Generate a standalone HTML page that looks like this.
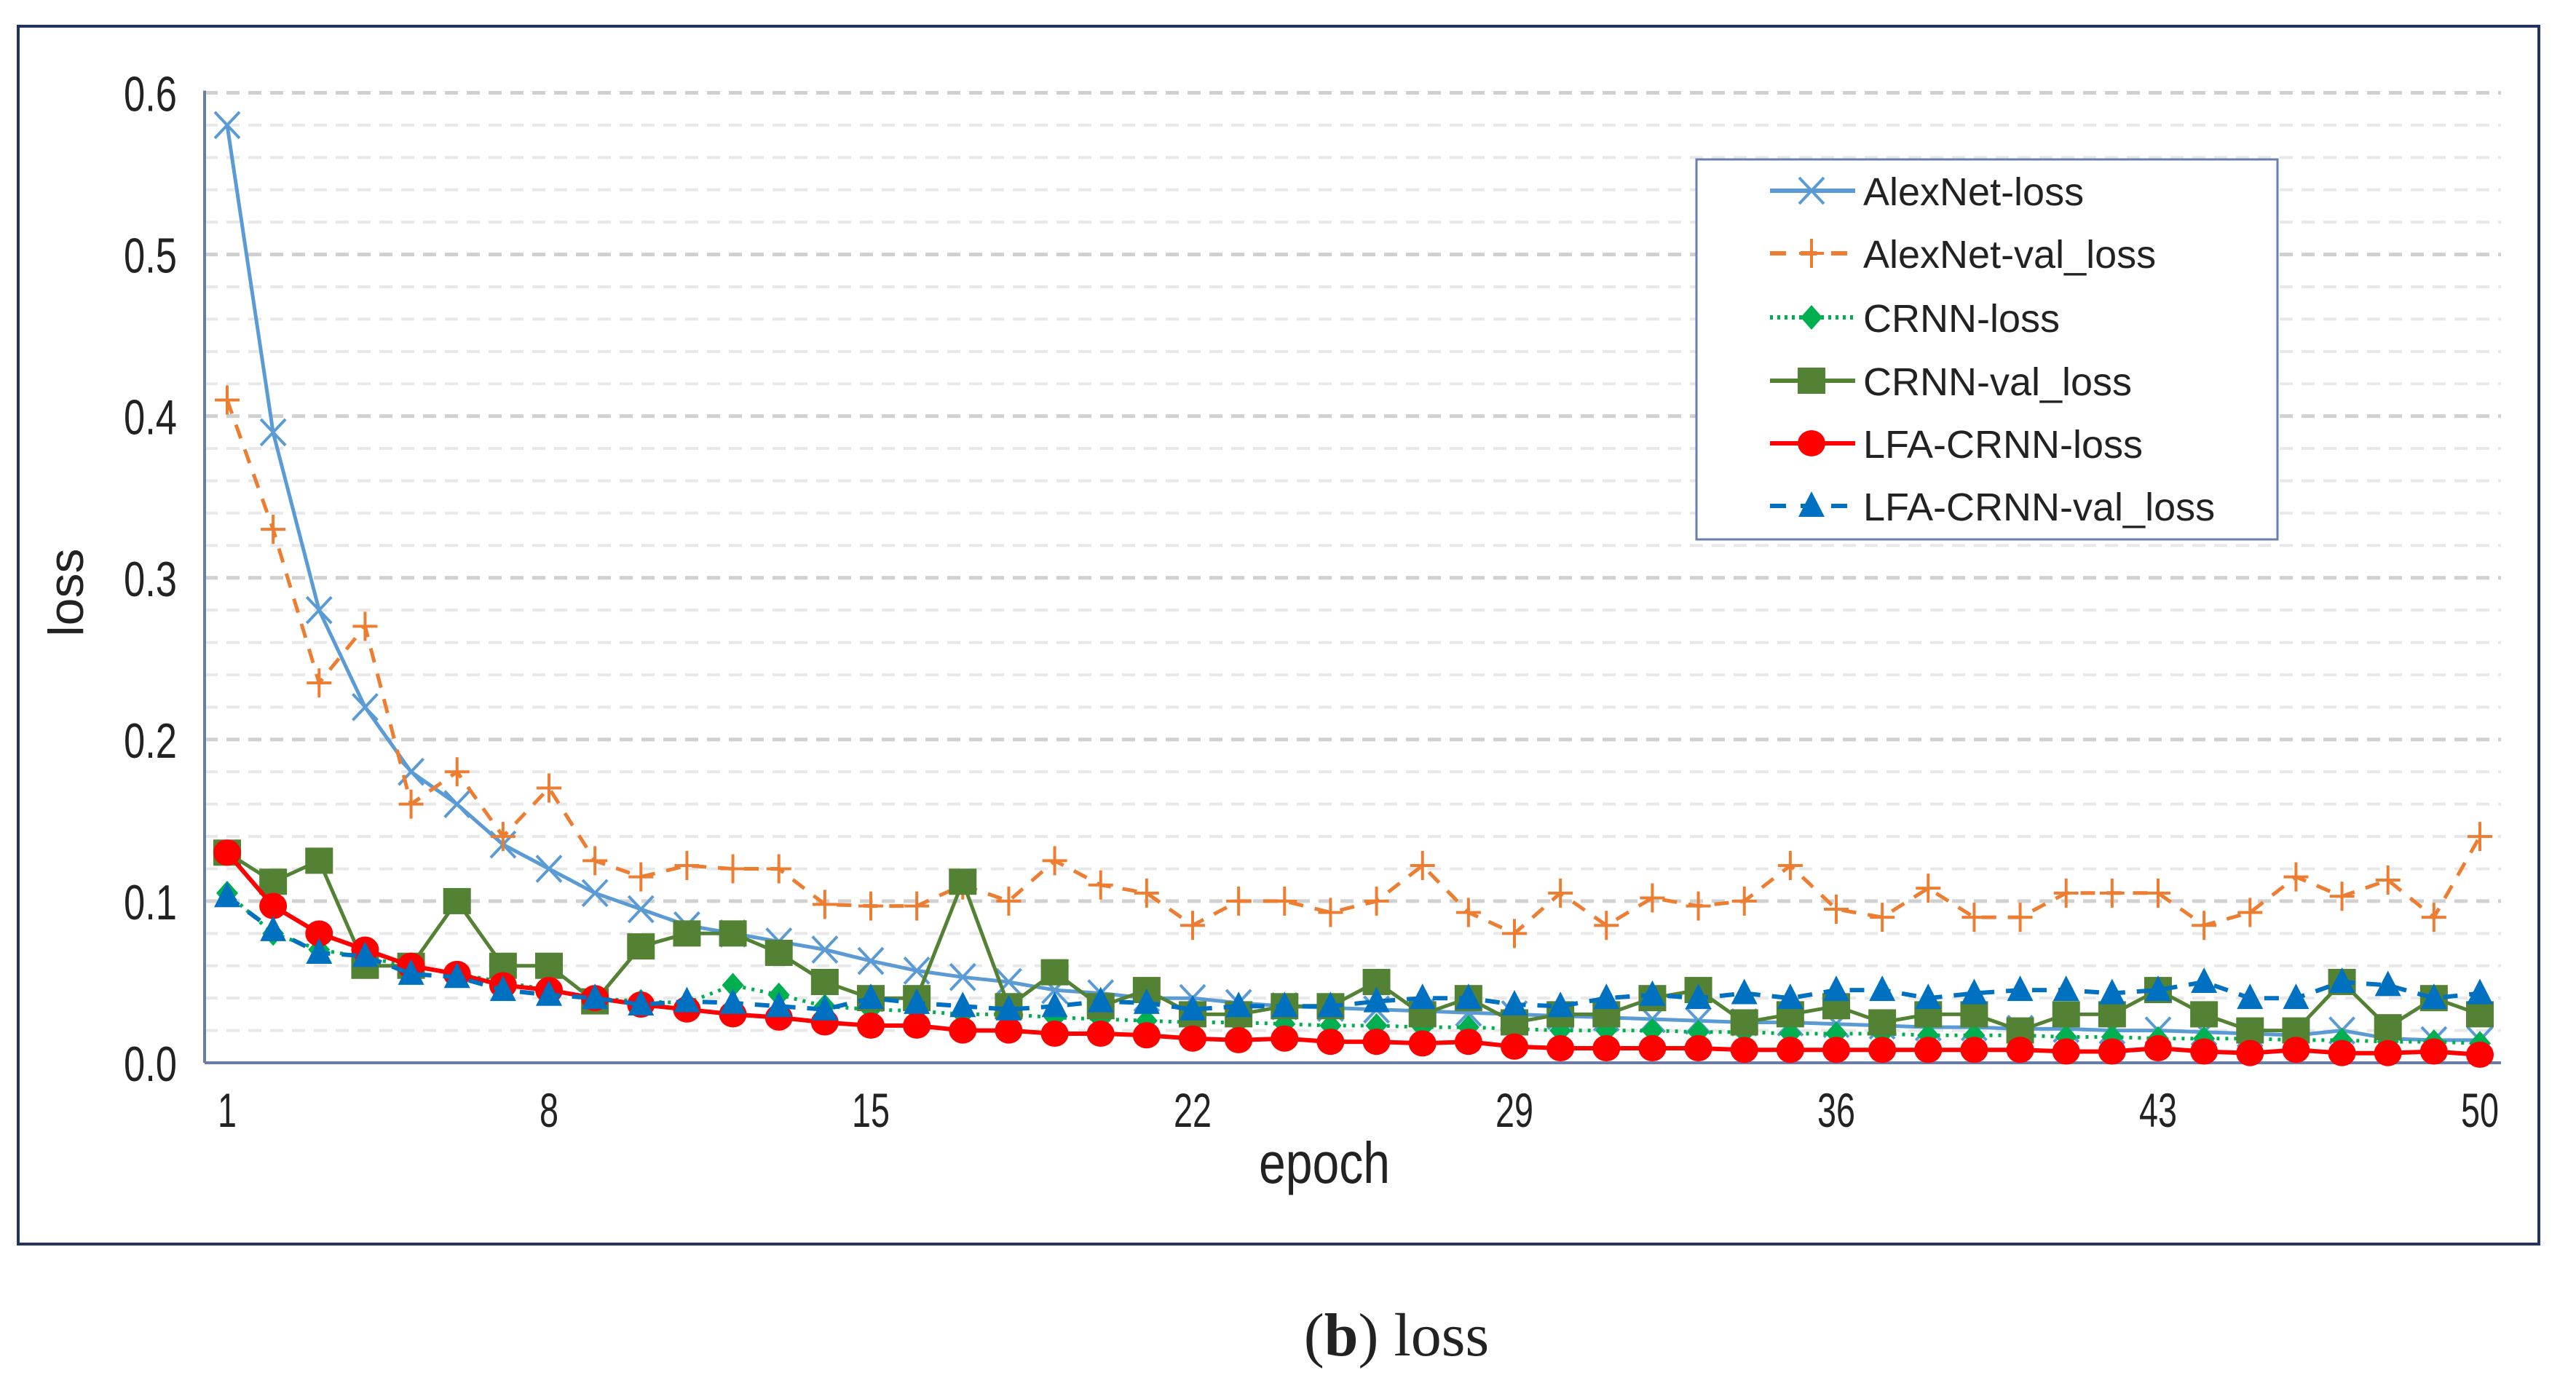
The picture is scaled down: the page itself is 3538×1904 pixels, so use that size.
<!DOCTYPE html>
<html><head><meta charset="utf-8"><style>
html,body{margin:0;padding:0;background:#fff;}
svg{display:block;}
text{font-family:"Liberation Sans",sans-serif;fill:#222;}
</style></head><body>
<svg id="chart" width="3538" height="1904" viewBox="0 0 3538 1904" xmlns="http://www.w3.org/2000/svg">
<rect x="25" y="36" width="3462" height="1673" fill="#fff" stroke="#22335f" stroke-width="4"/>
<g id="grid"></g>
<g id="axes"></g>
<g id="series"></g>
<text x="0" y="0" transform="translate(114,814) rotate(-90)" text-anchor="middle" font-size="68" textLength="121" lengthAdjust="spacingAndGlyphs">loss</text>
<text x="1729" y="1625" font-size="80" textLength="180" lengthAdjust="spacingAndGlyphs">epoch</text>
<g>
<rect x="2330" y="219" width="798" height="522" fill="#fff" stroke="#6a7fb0" stroke-width="3"/>
<g id="legend"></g>
</g>
<text x="1918" y="1862" text-anchor="middle" font-size="84" style="font-family:'Liberation Serif',serif">(<tspan font-weight="bold">b</tspan>) loss</text>
</svg>
<script>
const epochs = Array.from({length:50},(_,i)=>i+1);
const xTicks = [1,8,15,22,29,36,43,50];
const yTicks = [0.0,0.1,0.2,0.3,0.4,0.5,0.6];
const alexLoss = [0.58,0.39,0.28,0.22,0.18,0.16,0.135,0.12,0.105,0.095,0.085,0.08,0.075,0.07,0.063,0.057,0.053,0.05,0.045,0.043,0.04,0.04,0.037,0.035,0.034,0.033,0.032,0.031,0.03,0.029,0.028,0.027,0.026,0.025,0.025,0.024,0.023,0.022,0.022,0.021,0.021,0.02,0.02,0.019,0.018,0.017,0.02,0.015,0.014,0.014];
const alexVal = [0.41,0.33,0.235,0.27,0.16,0.18,0.14,0.17,0.125,0.115,0.122,0.12,0.12,0.098,0.097,0.097,0.11,0.1,0.125,0.11,0.105,0.085,0.1,0.1,0.093,0.1,0.122,0.093,0.08,0.105,0.085,0.102,0.097,0.1,0.122,0.095,0.09,0.108,0.09,0.09,0.105,0.105,0.105,0.085,0.093,0.115,0.103,0.113,0.09,0.14];
const crnnLoss = [0.105,0.08,0.07,0.065,0.06,0.055,0.05,0.045,0.04,0.038,0.037,0.048,0.042,0.035,0.033,0.032,0.03,0.03,0.028,0.027,0.026,0.025,0.025,0.024,0.023,0.023,0.022,0.022,0.021,0.02,0.02,0.02,0.019,0.019,0.018,0.018,0.018,0.017,0.017,0.017,0.016,0.016,0.015,0.015,0.015,0.014,0.014,0.013,0.013,0.012];
const crnnVal = [0.13,0.112,0.125,0.06,0.06,0.1,0.06,0.06,0.038,0.072,0.08,0.08,0.068,0.05,0.04,0.04,0.112,0.035,0.056,0.035,0.045,0.03,0.03,0.035,0.035,0.05,0.03,0.04,0.025,0.03,0.03,0.04,0.045,0.025,0.03,0.035,0.025,0.03,0.03,0.02,0.03,0.03,0.045,0.03,0.02,0.02,0.05,0.022,0.04,0.03];
const lfaLoss = [0.13,0.097,0.08,0.07,0.06,0.055,0.048,0.045,0.04,0.036,0.033,0.03,0.028,0.025,0.023,0.023,0.02,0.02,0.018,0.018,0.017,0.015,0.014,0.015,0.013,0.013,0.012,0.013,0.01,0.009,0.009,0.009,0.009,0.008,0.008,0.008,0.008,0.008,0.008,0.008,0.007,0.007,0.009,0.007,0.006,0.008,0.006,0.006,0.007,0.005];
const lfaVal = [0.103,0.082,0.068,0.066,0.055,0.053,0.045,0.042,0.04,0.036,0.038,0.037,0.035,0.033,0.04,0.037,0.035,0.033,0.035,0.038,0.037,0.033,0.035,0.035,0.035,0.038,0.04,0.04,0.036,0.035,0.04,0.042,0.04,0.043,0.04,0.045,0.045,0.04,0.043,0.045,0.045,0.043,0.045,0.05,0.04,0.04,0.05,0.048,0.04,0.043];

const NS="http://www.w3.org/2000/svg";
const X0=312, X1=3406, Y0=1460, Y1=127.5;
const xs = e => X0 + (e-1)*(X1-X0)/49;
const ys = v => Y0 - v*(Y0-Y1)/0.6;
function mk(tag, attrs, parent){const el=document.createElementNS(NS,tag);for(const k in attrs)el.setAttribute(k,attrs[k]);parent.appendChild(el);return el;}

const grid=document.getElementById('grid');
for(let i=1;i<=30;i++){
  const v=i*0.02;
  const major = i%5===0;
  const l=mk('line',{x1:281,x2:3435,y1:ys(v),y2:ys(v),stroke:major?'#d0d0d0':'#e8e8e8','stroke-width':major?5:4,'stroke-dasharray':'18 12'},grid);
  
  
}
const axes=document.getElementById('axes');
let a=mk('line',{x1:281,x2:281,y1:Y1-3,y2:Y0,stroke:'#6a7ca8','stroke-width':4},axes);


a=mk('line',{x1:281,x2:3435,y1:Y0,y2:Y0,stroke:'#6a7ca8','stroke-width':4},axes);


yTicks.forEach(v=>{
  const t=mk('text',{x:243,y:ys(v)+25,'text-anchor':'end','font-size':68,textLength:73,lengthAdjust:'spacingAndGlyphs'},axes);
  t.textContent=v.toFixed(1);
  
  
});
xTicks.forEach(e=>{
  const s=String(e);
  const t=mk('text',{x:xs(e),y:1548,'text-anchor':'middle','font-size':66,textLength:26*s.length,lengthAdjust:'spacingAndGlyphs'},axes);
  t.textContent=s;
  
  
});

function marker(type,x,y,color,g){
  let m;
  if(type==='x'){m=mk('path',{d:`M${x-17} ${y-18}L${x+17} ${y+18}M${x-17} ${y+18}L${x+17} ${y-18}`,stroke:color,'stroke-width':4,fill:'none'},g);}
  else if(type==='plus'){m=mk('path',{d:`M${x-17} ${y}L${x+17} ${y}M${x} ${y-20}L${x} ${y+20}`,stroke:color,'stroke-width':4,fill:'none'},g);}
  else if(type==='diamond'){m=mk('path',{d:`M${x} ${y-17}L${x+15} ${y}L${x} ${y+17}L${x-15} ${y}Z`,fill:color},g);}
  else if(type==='square'){m=mk('rect',{x:x-19,y:y-18,width:38,height:36,fill:color},g);}
  else if(type==='circle'){m=mk('ellipse',{cx:x,cy:y,rx:19,ry:18,fill:color},g);}
  else {m=mk('path',{d:`M${x} ${y-20}L${x+18} ${y+15}L${x-18} ${y+15}Z`,fill:color},g);}
  return m;
}
const seriesDefs=[
 {name:'AlexNet-loss',data:alexLoss,color:'#5b9bd5',dash:'',mk:'x',w:5},
 {name:'AlexNet-val_loss',data:alexVal,color:'#ed7d31',dash:'20 16',mk:'plus',w:5},
 {name:'CRNN-loss',data:crnnLoss,color:'#00b050',dash:'4 8',mk:'diamond',w:5},
 {name:'CRNN-val_loss',data:crnnVal,color:'#548235',dash:'',mk:'square',w:5},
 {name:'LFA-CRNN-loss',data:lfaLoss,color:'#ff0000',dash:'',mk:'circle',w:6},
 {name:'LFA-CRNN-val_loss',data:lfaVal,color:'#0070c0',dash:'20 16',mk:'tri',w:6}
];
const sg=document.getElementById('series');
const lg=document.getElementById('legend');
const rowY=[262,348,436,523,609,695];
seriesDefs.forEach((s,i)=>{
  const g=mk('g',{},sg);
  
  
  const pts=s.data.map((v,j)=>xs(epochs[j]).toFixed(1)+','+ys(v).toFixed(1)).join(' ');
  const pl=mk('polyline',{points:pts,fill:'none',stroke:s.color,'stroke-width':s.w,'stroke-dasharray':s.dash,'stroke-linejoin':'round'},g);
  
  
  s.data.forEach((v,j)=>{
    const m=marker(s.mk,xs(epochs[j]),ys(v),s.color,g);
    
    
  });
  const ly=rowY[i];
  const le=mk('g',{},lg);
  
  
  mk('line',{x1:2431,x2:2548,y1:ly,y2:ly,stroke:s.color,'stroke-width':6,'stroke-dasharray':s.dash?(s.dash==='4 8'?'4 6':'22 20'):''},le);
  marker(s.mk,2488,ly,s.color,le);
  const t=mk('text',{x:2559,y:ly+20,'font-size':54},le);
  t.textContent=s.name;
});
</script>
</body></html>
